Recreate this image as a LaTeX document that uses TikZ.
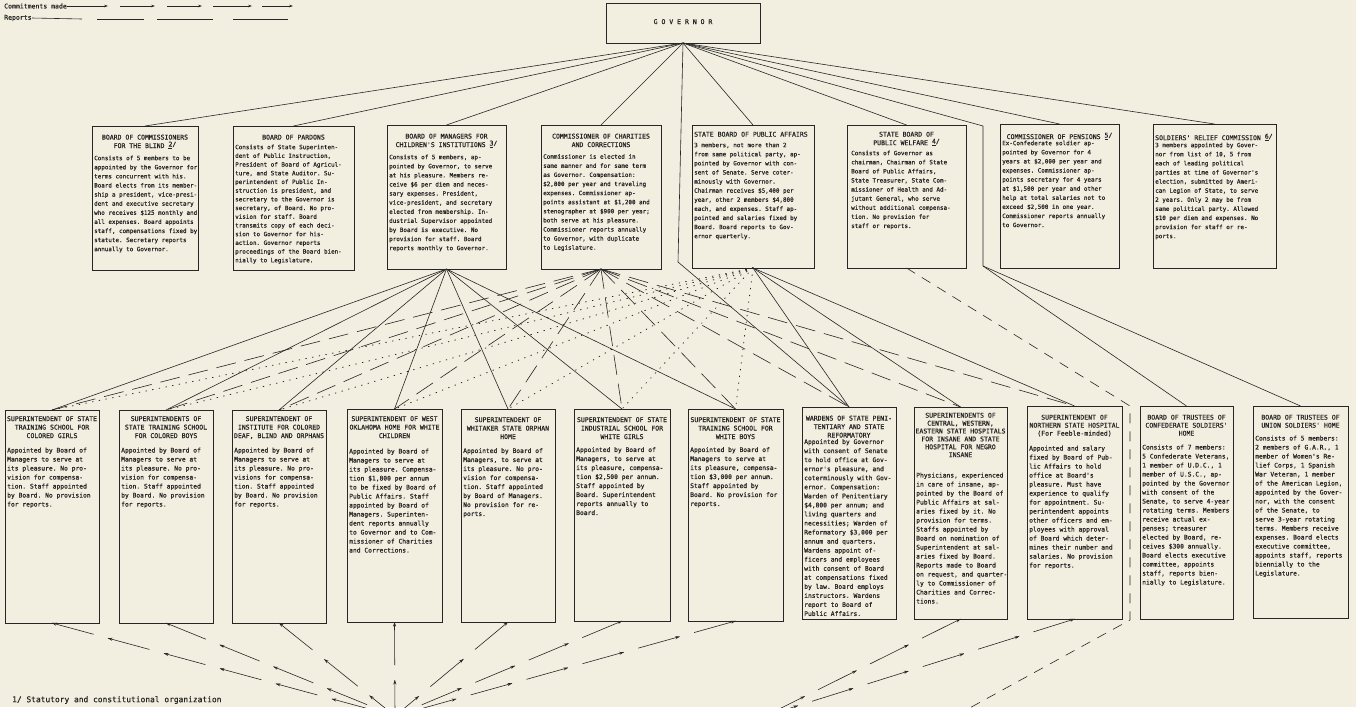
\documentclass[tikz,border=0pt]{standalone}
\usepackage{fontspec}
\setmonofont{DejaVu Sans Mono}[FakeBold=0.6]
\usetikzlibrary{arrows.meta,decorations.markings}
\definecolor{paper}{RGB}{242,238,224}
\definecolor{ink}{RGB}{38,38,38}
\newcommand\fnm[1]{\raisebox{1.5pt}{\underline{#1}/}}
\tikzset{
 box/.style={draw=ink, line width=0.9pt, inner sep=0pt, outer sep=0pt, anchor=north west},
 ttl/.style={font=\fontsize{6.5}{8.5}\ttfamily, text=ink, align=center, anchor=north, inner sep=0pt},
 ttll/.style={ttl, align=left, anchor=north west},
 bdy/.style={font=\fontsize{5.9}{9.1}\ttfamily, text=ink, align=left, anchor=north west, inner sep=0pt},
 bdyb/.style={bdy, font=\fontsize{6.3}{9}\ttfamily},
 commit/.style={draw=ink, line width=0.6pt, dash pattern=on 43pt off 15pt,
   postaction={decorate}, decoration={markings,
   mark=between positions 0 and 1 step 58pt with {\arrowreversed{Stealth[length=4.5pt,width=3pt]}}}},
 report/.style={draw=ink, line width=0.6pt, dash pattern=on 10pt off 8pt},
 solidln/.style={draw=ink, line width=0.6pt},
 dotln/.style={draw=ink, line width=0.8pt, dash pattern=on 0.8pt off 6pt, line cap=round},
 longdash/.style={draw=ink, line width=0.6pt, dash pattern=on 20pt off 9pt},
 lbl/.style={font=\fontsize{6.5}{7}\ttfamily, text=ink, inner sep=0pt, anchor=west},
}
\begin{document}
\begin{tikzpicture}[x=1pt,y=-1pt]
\useasboundingbox[fill=paper] (0,0) rectangle (1356,707);
\clip (0,0) rectangle (1356,707);

% legend
\node[lbl] (legc) at (4,6) {Commitments made};
\node[lbl] (legr) at (4,18) {Reports};
\draw[solidln,-{Stealth[length=4pt,width=2.6pt]}] (legc.east) -- (108,6);
\foreach \a/\b in {120/155,167/202,213/252,262/293}{
  \draw[solidln,-{Stealth[length=4pt,width=2.6pt]}] (\a,6) -- (\b,6);}
\draw[solidln] (legr.east) -- (82,19);
\foreach \a/\b in {97/144,157/213,233/288}{
  \draw[solidln] (\a,19) -- (\b,19);}

% governor
\node[box, minimum width=154pt, minimum height=40pt] (g) at (606,3) {};
\node[ttl] (gt) at ([yshift=-16pt]g.north) {G O V E R N O R};

% top row
\node[box, minimum width=106pt, minimum height=144pt] (t1) at (92,126) {};
\node[ttl] (t1h) at ([yshift=-8.5pt]t1.north) {BOARD OF COMMISSIONERS\\FOR THE BLIND \fnm{2}};
\node[bdy] (t1x) at ([xshift=2pt,yshift=-29.5pt]t1.north west) {Consists of 5 members to be\\appointed by the Governor for\\terms concurrent with his.\\Board elects from its member-\\ship a president, vice-presi-\\dent and executive secretary\\who receives \$125 monthly and\\all expenses.  Board appoints\\staff, compensations fixed by\\statute.  Secretary reports\\annually to Governor.};

\node[box, minimum width=121pt, minimum height=144pt] (t2) at (233,126) {};
\node[ttl] (t2h) at ([yshift=-8.5pt]t2.north) {BOARD OF PARDONS};
\node[bdy, font=\fontsize{5.9}{8.7}\ttfamily] (t2x) at ([xshift=2pt,yshift=-18.5pt]t2.north west) {Consists of State Superinten-\\dent of Public Instruction,\\President of Board of Agricul-\\ture, and State Auditor.  Su-\\perintendent of Public In-\\struction is president, and\\secretary to the Governor is\\secretary, of Board.  No pro-\\vision for staff.  Board\\transmits copy of each deci-\\sion to Governor for his-\\action.  Governor reports\\proceedings of the Board bien-\\nially to Legislature.};

\node[box, minimum width=119pt, minimum height=144pt] (t3) at (387,125) {};
\node[ttl] (t3h) at ([yshift=-8.5pt]t3.north) {BOARD OF MANAGERS FOR\\CHILDREN'S INSTITUTIONS \fnm{3}};
\node[bdy] (t3x) at ([xshift=2pt,yshift=-29.5pt]t3.north west) {Consists of 5 members, ap-\\pointed by Governor, to serve\\at his pleasure.  Members re-\\ceive \$6 per diem and neces-\\sary expenses.  President,\\vice-president, and secretary\\elected from membership. In-\\dustrial Supervisor appointed\\by Board is executive.  No\\provision for staff.  Board\\reports monthly to Governor.};

\node[box, minimum width=120pt, minimum height=144pt] (t4) at (541,125) {};
\node[ttl] (t4h) at ([yshift=-8.5pt]t4.north) {COMMISSIONER OF CHARITIES\\AND CORRECTIONS};
\node[bdy] (t4x) at ([xshift=2pt,yshift=-29pt]t4.north west) {Commissioner is elected in\\same manner and for same term\\as Governor.  Compensation:\\\$2,800 per year and traveling\\expenses.  Commissioner ap-\\points assistant at \$1,200 and\\stenographer at \$900 per year;\\both serve at his pleasure.\\Commissioner reports annually\\to Governor, with duplicate\\to Legislature.};

\node[box, minimum width=122pt, minimum height=143pt] (t5) at (692,125) {};
\node[ttll] (t5h) at ([xshift=2pt,yshift=-6.6pt]t5.north west) {STATE BOARD OF PUBLIC AFFAIRS};
\node[bdy] (t5x) at ([xshift=2pt,yshift=-17.5pt]t5.north west) {3 members, not more than 2\\from same political party, ap-\\pointed by Governor with con-\\sent of Senate.  Serve coter-\\minously with Governor.\\Chairman receives \$5,400 per\\year, other 2 members \$4,800\\each, and expenses. Staff ap-\\pointed and salaries fixed by\\Board.  Board reports to Gov-\\ernor quarterly.};

\node[box, minimum width=119pt, minimum height=143pt] (t6) at (847,125) {};
\node[ttl] (t6h) at ([yshift=-6.6pt]t6.north) {STATE BOARD OF\\PUBLIC WELFARE \fnm{4}};
\node[bdy] (t6x) at ([xshift=4pt,yshift=-25.5pt]t6.north west) {Consists of Governor as\\chairman, Chairman of State\\Board of Public Affairs,\\State Treasurer, State Com-\\missioner of Health and Ad-\\jutant General, who serve\\without additional compensa-\\tion.  No provision for\\staff or reports.};

\node[box, minimum width=119pt, minimum height=144pt] (t7) at (1000,124) {};
\node[ttl] (t7h) at ([yshift=-8.6pt]t7.north) {COMMISSIONER OF PENSIONS \fnm{5}};
\node[bdy] (t7x) at ([xshift=2pt,yshift=-16.5pt]t7.north west) {Ex-Confederate soldier ap-\\pointed by Governor for 4\\years at \$2,000 per year and\\expenses.  Commissioner ap-\\points secretary for 4 years\\at \$1,500 per year and other\\help at total salaries not to\\exceed \$2,500 in one year.\\Commissioner reports annually\\to Governor.};

\node[box, minimum width=123pt, minimum height=144pt] (t8) at (1153,124) {};
\node[ttll] (t8h) at ([xshift=2pt,yshift=-9.6pt]t8.north west) {SOLDIERS' RELIEF COMMISSION \fnm{6}};
\node[bdy] (t8x) at ([xshift=2pt,yshift=-18.5pt]t8.north west) {3 members appointed by Gover-\\nor from list of 10, 5 from\\each of leading political\\parties at time of Governor's\\election, submitted by Ameri-\\can Legion of State, to serve\\2 years.  Only 2 may be from\\same political party. Allowed\\\$10 per diem and expenses. No\\provision for staff or re-\\ports.};

% bottom row
\node[box, minimum width=94pt, minimum height=213pt] (b1) at (5,410) {};
\node[ttl] (b1h) at ([yshift=-6pt]b1.north) {SUPERINTENDENT OF STATE\\TRAINING SCHOOL FOR\\COLORED GIRLS};
\node[bdyb] (b1x) at ([xshift=2pt,yshift=-37.5pt]b1.north west) {Appointed by Board of\\Managers to serve at\\its pleasure.  No pro-\\vision for compensa-\\tion. Staff appointed\\by Board. No provision\\for reports.};

\node[box, minimum width=94pt, minimum height=213pt] (b2) at (119,410) {};
\node[ttl] (b2h) at ([yshift=-6pt]b2.north) {SUPERINTENDENTS OF\\STATE TRAINING SCHOOL\\FOR COLORED BOYS};
\node[bdyb] (b2x) at ([xshift=2pt,yshift=-37.5pt]b2.north west) {Appointed by Board of\\Managers to serve at\\its pleasure.  No pro-\\vision for compensa-\\tion. Staff appointed\\by Board. No provision\\for reports.};

\node[box, minimum width=94pt, minimum height=213pt] (b3) at (232,410) {};
\node[ttl] (b3h) at ([yshift=-6pt]b3.north) {SUPERINTENDENT OF\\INSTITUTE FOR COLORED\\DEAF, BLIND AND ORPHANS};
\node[bdyb] (b3x) at ([xshift=2pt,yshift=-37.5pt]b3.north west) {Appointed by Board of\\Managers to serve at\\its pleasure.  No pro-\\visions for compensa-\\tion. Staff appointed\\by Board. No provision\\for reports.};

\node[box, minimum width=95pt, minimum height=213pt] (b4) at (347,409) {};
\node[ttl] (b4h) at ([yshift=-7pt]b4.north) {SUPERINTENDENT OF WEST\\OKLAHOMA HOME FOR WHITE\\CHILDREN};
\node[bdyb] (b4x) at ([xshift=2pt,yshift=-39.5pt]b4.north west) {Appointed by Board of\\Managers to serve at\\its pleasure. Compensa-\\tion \$1,800 per annum\\to be fixed by Board of\\Public Affairs.  Staff\\appointed by Board of\\Managers.  Superinten-\\dent reports annually\\to Governor and to Com-\\missioner of Charities\\and Corrections.};

\node[box, minimum width=94pt, minimum height=213pt] (b5) at (461,409) {};
\node[ttl] (b5h) at ([yshift=-8pt]b5.north) {SUPERINTENDENT OF\\WHITAKER STATE ORPHAN\\HOME};
\node[bdyb] (b5x) at ([xshift=2pt,yshift=-39pt]b5.north west) {Appointed by Board of\\Managers, to serve at\\its pleasure.  No pro-\\vision for compensa-\\tion. Staff appointed\\by Board of Managers.\\No provision for re-\\ports.};

\node[box, minimum width=96pt, minimum height=212pt] (b6) at (574,409) {};
\node[ttl] (b6h) at ([yshift=-8pt]b6.north) {SUPERINTENDENT OF STATE\\INDUSTRIAL SCHOOL FOR\\WHITE GIRLS};
\node[bdyb] (b6x) at ([xshift=2pt,yshift=-38pt]b6.north west) {Appointed by Board of\\Managers, to serve at\\its pleasure, compensa-\\tion \$2,500 per annum.\\Staff appointed by\\Board.  Superintendent\\reports annually to\\Board.};

\node[box, minimum width=95pt, minimum height=212pt] (b7) at (688,409) {};
\node[ttl] (b7h) at ([yshift=-8pt]b7.north) {SUPERINTENDENT OF STATE\\TRAINING SCHOOL FOR\\WHITE BOYS};
\node[bdyb] (b7x) at ([xshift=2pt,yshift=-38pt]b7.north west) {Appointed by Board of\\Managers to serve at\\its pleasure, compensa-\\tion \$3,000 per annum.\\Staff appointed by\\Board. No provision for\\reports.};

\node[box, minimum width=94pt, minimum height=212pt] (b8) at (802,407) {};
\node[ttl] (b8h) at ([yshift=-8.5pt]b8.north) {WARDENS OF STATE PENI-\\TENTIARY AND STATE\\REFORMATORY};
\node[bdyb, font=\fontsize{6.3}{9.05}\ttfamily] (b8x) at ([xshift=2pt,yshift=-32pt]b8.north west) {Appointed by Governor\\with consent of Senate\\to hold office at Gov-\\ernor's pleasure, and\\coterminously with Gov-\\ernor.  Compensation:\\Warden of Penitentiary\\\$4,800 per annum; and\\living quarters and\\necessities; Warden of\\Reformatory \$3,000 per\\annum and quarters.\\Wardens appoint of-\\ficers and employees\\with consent of Board\\at compensations fixed\\by law. Board employs\\instructors. Wardens\\report to Board of\\Public Affairs.};

\node[box, minimum width=93pt, minimum height=212pt] (b9) at (914,407) {};
\node[ttl, font=\fontsize{6.5}{7.9}\ttfamily] (b9h) at ([yshift=-5.6pt]b9.north) {SUPERINTENDENTS OF\\CENTRAL, WESTERN,\\EASTERN STATE HOSPITALS\\FOR INSANE AND STATE\\HOSPITAL FOR NEGRO\\INSANE};
\node[bdyb] (b9x) at ([xshift=2pt,yshift=-65.5pt]b9.north west) {Physicians, experienced\\in care of insane, ap-\\pointed by the Board of\\Public Affairs at sal-\\aries fixed by it.  No\\provision for terms.\\Staffs appointed by\\Board on nomination of\\Superintendent at sal-\\aries fixed by Board.\\Reports made to Board\\on request, and quarter-\\ly to Commissioner of\\Charities and Correc-\\tions.};

\node[box, minimum width=95pt, minimum height=213pt] (b10) at (1027,406) {};
\node[ttl, font=\fontsize{6.5}{8}\ttfamily] (b10h) at ([yshift=-8.6pt]b10.north) {SUPERINTENDENT OF\\NORTHERN STATE HOSPITAL\\(For Feeble-minded)};
\node[bdyb] (b10x) at ([xshift=2pt,yshift=-39.5pt]b10.north west) {Appointed and salary\\fixed by Board of Pub-\\lic Affairs to hold\\office at Board's\\pleasure.  Must have\\experience to qualify\\for appointment.  Su-\\perintendent appoints\\other officers and em-\\ployees with approval\\of Board which deter-\\mines their number and\\salaries.  No provision\\for reports.};

\node[box, minimum width=93pt, minimum height=213pt] (b11) at (1140,406) {};
\node[ttl, font=\fontsize{6.5}{8}\ttfamily] (b11h) at ([yshift=-8.6pt]b11.north) {BOARD OF TRUSTEES OF\\CONFEDERATE SOLDIERS'\\HOME};
\node[bdyb] (b11x) at ([xshift=2pt,yshift=-38.5pt]b11.north west) {Consists of 7 members:\\5 Confederate Veterans,\\1 member of U.D.C., 1\\member of U.S.C., ap-\\pointed by the Governor\\with consent of the\\Senate, to serve 4-year\\rotating terms. Members\\receive actual ex-\\penses; treasurer\\elected by Board, re-\\ceives \$300 annually.\\Board elects executive\\committee, appoints\\staff, reports bien-\\nially to Legislature.};

\node[box, minimum width=95pt, minimum height=212pt] (b12) at (1253,406) {};
\node[ttl, font=\fontsize{6.5}{8}\ttfamily] (b12h) at ([yshift=-8.6pt]b12.north) {BOARD OF TRUSTEES OF\\UNION SOLDIERS' HOME};
\node[bdyb] (b12x) at ([xshift=2pt,yshift=-29.5pt]b12.north west) {Consists of 5 members:\\2 members of G.A.R., 1\\member of Women's Re-\\lief Corps, 1 Spanish\\War Veteran, 1 member\\of the American Legion,\\appointed by the Gover-\\nor, with the consent\\of the Senate, to\\serve 3-year rotating\\terms.  Members receive\\expenses. Board elects\\executive committee,\\appoints staff, reports\\biennially to the\\Legislature.};

% footnote
\node[lbl, font=\fontsize{7.9}{8}\ttfamily] (fn1) at (12,700) {1/ Statutory and constitutional organization};

% helper coordinates
\coordinate (gw) at (678,262);
\coordinate (ge1) at (983,126);
\coordinate (ge2) at (983,266);
\coordinate (cl) at (395,716);
\coordinate (cr) at (765,716);
\coordinate (rv1) at (1130,406);
\coordinate (rv2) at (1130,620);
\coordinate (rv3) at (955,716);

% governor to top boxes
\foreach \t in {t1,t2,t3,t4,t5,t6,t7,t8}{
  \draw[solidln] (g.south) -- (\t.north);}
\draw[solidln] (g.south) -- (gw) -- (b8.north);
\draw[solidln] (g.south) -- (ge1) -- (ge2) -- (b11.north);
\draw[solidln] (ge2) -- (b12.north);

% board of managers to children's institutions
\foreach \b in {b1,b2,b3,b4,b5,b6,b7}{
  \draw[solidln] (t3.south) -- (\b.north);}
% charities
\foreach \b in {b1,b2,b3,b4,b5,b6,b7,b8,b9,b10}{
  \draw[longdash] (t4.south) -- (\b.north);}
% public affairs
\foreach \b in {b1,b2,b3,b4,b5,b6,b7}{
  \draw[dotln] (t5.south) -- (\b.north);}
\foreach \b in {b8,b9,b10}{
  \draw[solidln] (t5.south) -- (\b.north);}
% report line on right
\draw[report] (t6.south) -- (rv1) -- (rv2) -- (rv3);

% commitments at bottom
\foreach \b in {b1,b2,b3,b4,b5,b6,b7}{
  \draw[commit] (\b.south) -- (cl);}
\foreach \b in {b9,b10}{
  \draw[commit] (\b.south) -- (cr);}
\end{tikzpicture}
\end{document}
